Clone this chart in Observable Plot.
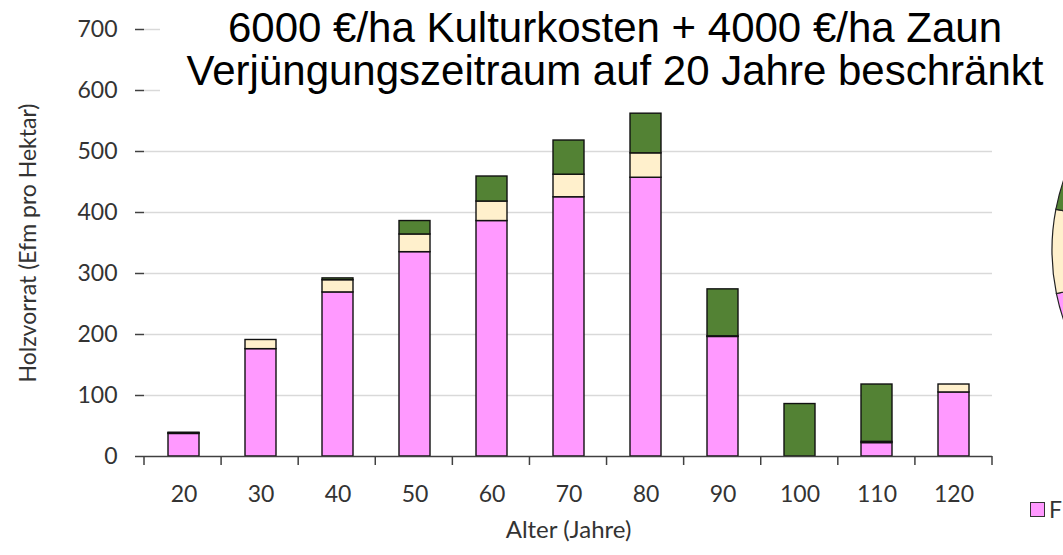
<!DOCTYPE html>
<html>
<head>
<meta charset="utf-8">
<script src="https://cdn.jsdelivr.net/npm/d3@7"></script>
<script src="https://cdn.jsdelivr.net/npm/@observablehq/plot@0.6"></script>
<style>
  html, body { margin: 0; padding: 0; background: #fff; overflow: hidden; width: 1063px; height: 555px; }
  #wrap { position: relative; width: 1063px; height: 555px; overflow: hidden; }
  #title { position: absolute; left: 160px; top: 0px; width: 910px; height: 96px; background: #fff;
           font-family: "Liberation Sans", Arial, sans-serif; font-size: 42px; line-height: 43px;
           text-align: center; color: #000; padding-top: 6px; box-sizing: border-box; white-space: nowrap; }
  #legend { position: absolute; left: 1030px; top: 495px; font-family: Lato, sans-serif; font-size: 23px;
            white-space: nowrap; color: #333; display: flex; align-items: center; }
  #legend .sw { width: 13px; height: 13px; background: #ff99ff; border: 1px solid #333; margin-right: 4px; }
</style>
</head>
<body>
<div id="wrap">
  <div id="chart"></div>
  <div id="title">6000 €/ha Kulturkosten + 4000 €/ha Zaun<br>Verjüngungszeitraum auf 20 Jahre beschränkt</div>
  <div id="legend"><span class="sw"></span><span>Fichte</span></div>
</div>
<script>
// ---- data ----
const ages = [20, 30, 40, 50, 60, 70, 80, 90, 100, 110, 120];
const seriesNames = ["Fichte", "Tanne", "Buche"];
const fichte = [37, 176, 269, 335, 386, 425, 457, 196, 0, 22, 105];
const tanne  = [1, 15, 20, 29, 32, 37, 40, 1, 0, 2, 13];
const buche  = [1, 0, 3, 22, 41, 56, 65, 77, 86, 94, 0];
const yTicks = [0, 100, 200, 300, 400, 500, 600, 700];
const colors = ["#ff99ff", "#fff0cc", "#538234"];

const seriesValues = [fichte, tanne, buche];
const rows = [];
ages.forEach((a, i) => seriesNames.forEach((s, k) => rows.push({age: a, series: s, value: seriesValues[k][i]})));
// pie (mostly outside the visible area): totals per series
const pieRows = seriesNames.map((s, k) => ({series: s, value: d3.sum(seriesValues[k])}));

// tick marks at the boundaries between categories
function boundaryTicks(index, scales, values, dims) {
  const {width, height, marginLeft, marginRight, marginBottom} = dims;
  const n = ages.length;
  const step = (width - marginLeft - marginRight) / n;
  const y0 = height - marginBottom;
  const g = d3.create("svg:g");
  for (let i = 0; i <= n; i++) {
    const x = marginLeft + i * step;
    g.append("line").attr("x1", x).attr("x2", x).attr("y1", y0).attr("y2", y0 + 9)
      .attr("stroke", "#404040").attr("stroke-width", 1.5);
  }
  return g.node();
}

// pie chart on the right, cut by the picture edge
function pieMark(index, scales, values, dims) {
  const cx = dims.width + 205, cy = 250, r = 216;
  const pie = d3.pie().value(d => d.value).sort(null)
    .startAngle(-26.5 * Math.PI / 180).endAngle((360 - 26.5) * Math.PI / 180);
  const arc = d3.arc().innerRadius(0).outerRadius(r);
  const g = d3.create("svg:g").attr("transform", `translate(${cx},${cy})`);
  g.selectAll("path").data(pie(pieRows)).join("path")
    .attr("d", arc)
    .attr("fill", d => scales.color(d.data.series))
    .attr("stroke", "#222").attr("stroke-width", 1.2);
  return g.node();
}

const plot = Plot.plot({
  width: 1063,
  height: 555,
  marginLeft: 144,
  marginRight: 71,
  marginTop: 29,
  marginBottom: 99,
  style: {fontFamily: "Lato, sans-serif", fontSize: "23px", color: "#333", background: "#fff"},
  x: {type: "band", domain: ages, paddingInner: 0.6, paddingOuter: 0.3, label: null},
  y: {domain: [0, 700], label: null},
  color: {domain: seriesNames, range: colors},
  marks: [
    Plot.gridY(yTicks.filter(d => d > 0), {stroke: "#d9d9d9", strokeOpacity: 1, strokeWidth: 1.5}),
    Plot.barY(rows, {x: "age", y: "value", fill: "series", order: seriesNames, stroke: "#111", strokeWidth: 1.4}),
    Plot.ruleY([0], {stroke: "#404040", strokeWidth: 1.5}),
    Plot.axisY({ticks: yTicks, tickSize: 9, tickPadding: 18, stroke: "#404040", strokeWidth: 1.5, line: true, label: null, fontSize: 23}),
    Plot.axisX({tickSize: 0, tickPadding: 29, label: null, fontSize: 23}),
    boundaryTicks,
    pieMark,
    Plot.text(["Holzvorrat (Efm pro Hektar)"], {frameAnchor: "left", textAnchor: "middle", dx: -116, rotate: -90, fontSize: 23, fill: "#333"}),
    Plot.text(["Alter (Jahre)"], {frameAnchor: "bottom", lineAnchor: "middle", dy: 74, fontSize: 24, fill: "#333"})
  ]
});
document.getElementById("chart").appendChild(plot);
</script>
</body>
</html>
